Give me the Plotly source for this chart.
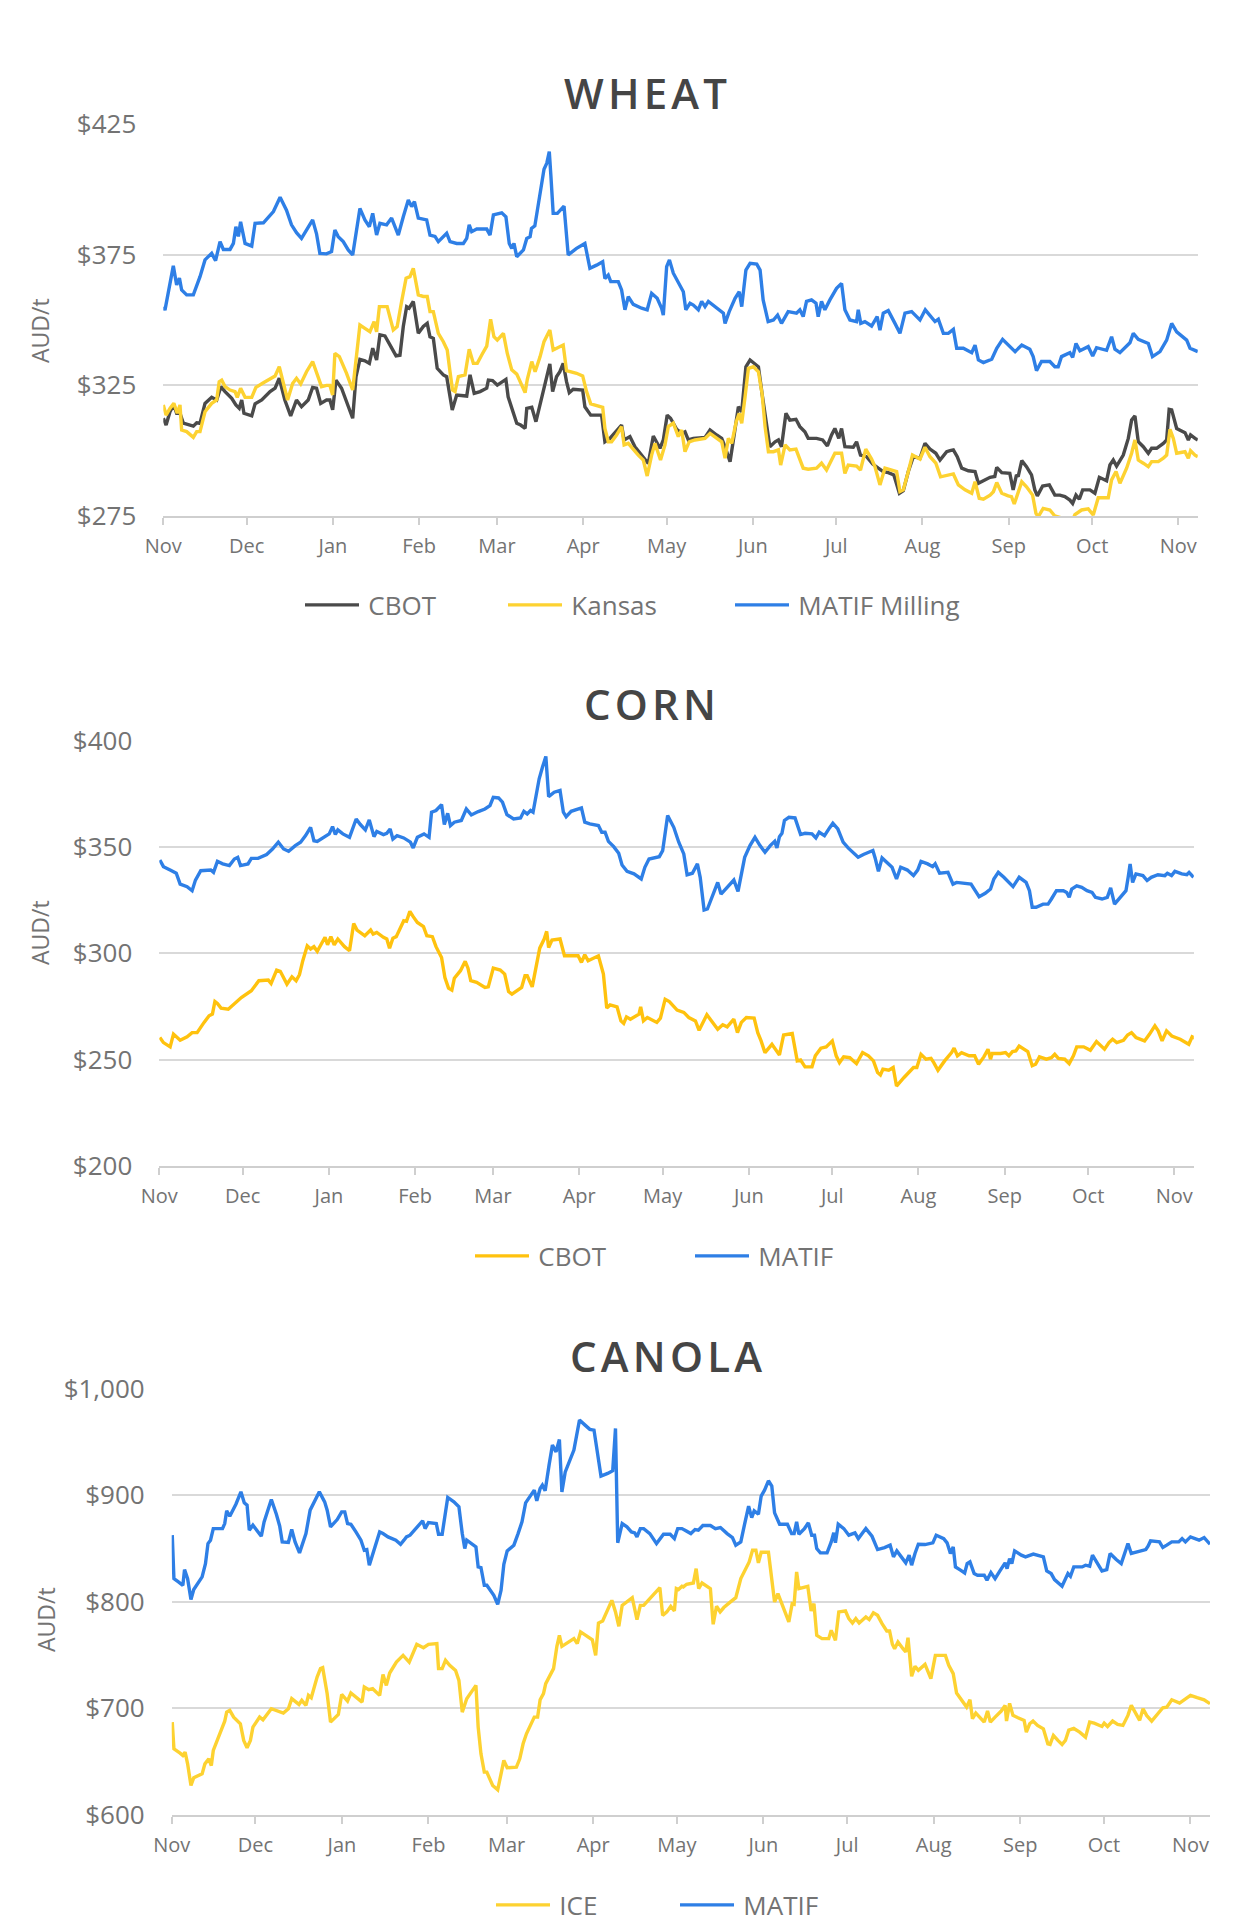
import pandas as pd
import plotly.graph_objects as go

# days counted from 1 Nov 2018, prices in AUD/t
START = pd.Timestamp("2018-11-01")

wheat_cbot_day = [0, 1, 2.4, 3.8, 4.8, 6, 7.2, 10.8, 12, 13.2, 15, 17.4, 19.2, 20.7, 22.2, 24.6, 26.1, 27.3, 28.2, 29, 31.8, 33, 35.4, 38.4, 40.2, 41.7, 43.7, 45.8, 47.9, 49.7, 52.1, 53.7, 55.1, 56.6, 58.7, 59.9, 60.9, 62.1, 64.1, 65.9, 68.1, 69.3, 70.7, 72.5, 74.1, 75.3, 76.7, 77.9, 79.7, 81.5, 83.7, 85.1, 86.3, 87.5, 88.4, 89.9, 91.7,
                  93.5, 94.9, 95.9, 97.1, 98.5, 100.7, 101.9, 103.1, 103.9, 105.5, 107.9, 109.1, 110.3, 111.8, 113.9, 116.3, 116.9, 118.4, 120.1, 121.7, 123.2, 124, 125.6, 127.1, 128.5, 130.1, 130.7, 132.5, 134, 135.5, 137.2, 139, 140, 141.4, 142.6, 143.8, 145, 146, 147.4, 150.8, 151.6, 153.7, 157.6, 158.8, 160.6, 163, 164.8, 165.7, 167.8, 169.6, 171.6, 173.2, 174.4, 176.2, 178.6, 179.8, 181.2, 182.4, 184.6, 186.4, 187.6, 188.8, 190.6,
                  194.8, 196.6, 199, 200.8, 202, 203.8, 205, 206.8, 208, 209.5, 211, 212.7, 214, 215.3, 217, 218.1, 220, 221.2, 222.3, 223.9, 225.3, 227.5, 228.9, 230.7, 231.9, 234.9, 237.1, 238.8, 240.3, 241.5, 242.9, 243.9, 245.1, 248.1, 249.3, 250.7, 252.9, 255.1, 257.1, 258.9, 260.7, 262.7, 264.7, 266.1, 267.9, 269.7, 272.1, 273.9, 275.7, 277.8, 279.3, 281.7,
                  282.9, 284.1, 285.5, 287.1, 289.5, 291.9, 293.1, 294.9, 297.3, 299, 299.7, 301.5, 304.4, 305.6, 306.8, 307.4, 308.7, 310.4, 312.2, 313.4, 314.3, 316.2, 318.6, 320.6, 322.4, 324.2, 326, 327, 328.2, 329.4, 330.6, 333.2, 335, 336.6, 339.2, 340.4, 341.6, 342.8, 345.2, 347, 348.2, 349.4, 350.6, 352.4, 354.2, 355.4, 357.2, 359.6, 360.8, 361.7, 362.6, 364.4, 367.4, 368.6, 369.4, 371, 372]
wheat_cbot = [312.4, 309.8, 314.9, 317.5, 314.3, 314.3, 310.5, 309.4, 310.7, 310.5, 318.1, 320.4, 319.4, 324.5, 322.6, 320, 317.5, 316.2, 319.4, 314.3, 313.3, 317.9, 319.4, 322.6, 323.9, 327.7, 319.4, 313.3, 319.4, 316.8, 319.4, 324.2, 323.9, 318.1, 319.4, 319.4, 315.6, 327, 323.9, 318.8, 312.4, 328.3, 334.9, 334.4, 333.4, 339.2, 334.7, 344.3, 343.9, 340.5, 336.3, 336.5, 347.5, 355.1, 354.5, 357.1, 344.9,
              347.5, 348.7, 343.6, 343, 331.5, 329, 328.3, 320.6, 315.6, 321.3, 320.9, 320.9, 329, 321.9, 322.6, 323.9, 327, 326.8, 325.1, 326.4, 327.3, 320.6, 314.9, 310.5, 309.8, 308.5, 316.2, 316.6, 311.1, 317.5, 325.7, 333.2, 322.6, 328.3, 330.2, 333.4, 326.4, 322.2, 323.5, 323.2, 316.8, 313.6, 313.6, 303.4, 304.7, 307.9, 309.8, 304.1, 305.4, 301.5, 299, 297.1, 295.1, 305.6, 300.9, 304.1, 313.6, 312.4, 308.2, 306.6, 307.2, 304.1, 304.7,
              305.1, 307.9, 306, 304.7, 301.5, 295.8, 304.1, 316.8, 314.9, 332.1, 334.7, 333.4, 332.1, 321.9, 309.2, 301.5, 303.4, 304.1, 301.5, 314.3, 311.7, 312, 309.2, 307.2, 304.7, 304.7, 304.1, 301.8, 306, 308.5, 304.7, 308.5, 301.5, 301.3, 303.4, 298.3, 297.7, 294.9, 293.3, 292, 291.6, 290.7, 283.7, 284.7, 292, 297.7, 297.1, 302.8, 300.6, 299, 296.4, 299.6,
              300, 300.3, 297.7, 293.3, 292.3, 292, 287.5, 288.5, 289.8, 290.1, 293.6, 291.6, 291.3, 285, 290.7, 290.1, 296.2, 293.9, 290.7, 285, 282.7, 286.5, 286.9, 283, 283, 282.4, 281.1, 279.8, 283, 281.4, 285, 285, 283.7, 289.8, 288.5, 294.5, 296.4, 294.1, 298.3, 304.7, 311.7, 313.3, 303.4, 301.5, 299, 300.9, 300.9, 302.8, 304.1, 315.8, 315.6, 308.5, 306.9, 304.1, 306, 304.7, 304.1]

wheat_kansas_day = [0, 1, 2.4, 3.8, 5, 6, 6.6, 8.4, 10.8, 12, 13.2, 15, 17.4, 19.2, 20.1, 21, 22.2, 24, 25.8, 26.6, 27.8, 29.4, 31.8, 33.3, 36, 38.4, 40.2, 41.7, 43.1, 44.7, 46.5, 47.9, 49.4, 51.5, 53.7, 55.1, 56.9, 58.7, 59.9, 60.9, 61.7, 63.3, 65.9, 68.1, 69.5, 70.7, 72.5, 74.3, 75.8, 76.7, 77.7, 80.5, 82.7, 84.1, 85.7, 87.3, 88.7, 89.9, 91.7,
                    93.5, 94.9, 95.9, 97.1, 98.9, 100.7, 102.1, 103.1, 104, 104.9, 106.1, 108.5, 110, 111.5, 112.9, 114.5, 116.3, 117.7, 118.9, 120.1, 122.3, 123.7, 125.3, 127.1, 128.9, 130.1, 130.9, 132.5, 133.7, 135.5, 136.9, 138.1, 139, 140.2, 142, 143.8, 145, 146.8, 148.6, 150.8, 152.2, 153.7, 155.8, 158, 158.8, 160, 161.2, 163, 164.8, 165.7, 167.2, 169, 170.8, 172.6, 174, 175.6, 176.8, 178.8, 180.4, 181.6, 183.4, 185.2, 186.4, 187.6, 189.1, 191.2,
                    194.8, 196.6, 199, 200.8, 202, 203.2, 204.4, 206, 207.1, 208, 209.2, 210.4, 212.2, 214, 215.3, 216.4, 217.6, 219.4, 221.2, 222, 223.6, 225.3, 227.5, 228.9, 230.1, 231.9, 234.9, 236.7, 238.5, 241.5, 243.9, 245.1, 246.3, 249.3, 250.7, 252.6, 254.7, 255.9, 257.7, 259.5, 261.3, 263.7, 264.9, 266.1, 267.9, 269.4, 272.1, 273.9, 275.7, 277.8, 279.5, 282.3,
                    284.1, 285.9, 288.3, 290.7, 291.9, 293.4, 294.9, 297.3, 298.5, 299.7, 301.5, 303.8, 305, 306, 307.4, 308.7, 310.4, 312.6, 313.8, 314.6, 316.4, 318.8, 320.6, 323.6, 327.2, 327.8, 330.2, 332.6, 334.4, 336.2, 339.8, 341, 342.6, 344, 346.4, 348.2, 349.4, 350.6, 352.4, 354.2, 355.4, 357.8, 359.6, 360.8, 362, 363.2, 364.4, 367.4, 368.6, 369.4, 371, 372]
wheat_kansas = [317.5, 313.6, 316.2, 318.1, 314.3, 317.5, 307.9, 307.3, 305.1, 307.3, 307.3, 314.9, 318.1, 319.4, 326.4, 327, 324.5, 323.2, 322.6, 320.4, 323.9, 320.4, 320.4, 324.2, 326, 327.7, 328.6, 332.1, 325.5, 319.4, 325.7, 327.7, 325.5, 330.2, 334.1, 329.6, 324.5, 325, 325, 321.3, 337.2, 336, 329.6, 323.2, 337.2, 348.1, 346.8, 345.5, 349.4, 345.5, 355.1, 355.1, 346.2, 347.5, 357.1, 366, 366.6, 369.8, 359.6,
                359, 359, 353.2, 353.2, 344.9, 341.7, 338.5, 330.2, 323.2, 322.6, 328.3, 329, 338.8, 333.4, 333.4, 336.6, 340, 350.3, 343.6, 342.3, 344.9, 337.2, 330.9, 329.3, 325.1, 322.2, 327.3, 334.1, 330.2, 336, 341.7, 343.9, 346.2, 338.5, 339.5, 340.4, 330.6, 330.2, 329.6, 328.6, 322.6, 317.9, 317.1, 316.6, 308.5, 303.4, 303.4, 306, 309.2, 302.2, 302.8, 300.3, 298.3, 296.4, 290.3, 298.3, 302.8, 296.4, 302.2, 309.2, 310.5, 305.4, 307.9, 299.6, 303.4, 304.1,
                304.7, 306.6, 304.7, 303.4, 297.1, 304.7, 302.8, 311, 314.3, 310.5, 320.6, 331.5, 332.1, 330.2, 321.9, 309.2, 299.6, 299.6, 300.3, 294.5, 302.2, 300.3, 300.6, 297.1, 293.3, 292.9, 293.3, 295.2, 292.6, 299, 299, 291.3, 294.5, 294.1, 292.6, 300.6, 296.8, 293.9, 286.9, 293.3, 292.6, 292, 284.4, 285, 292, 298.3, 296.8, 301.3, 297.7, 295.2, 290, 290.7,
                291.1, 286.9, 285, 283.7, 288.1, 281.8, 281.4, 283, 284.3, 287.8, 283.7, 282.7, 282.4, 279.6, 284.3, 288.1, 286.2, 283, 276, 274.7, 277.9, 277.3, 275, 274.1, 274, 275.5, 277.3, 277.7, 275.4, 282, 282, 288.8, 292, 287.5, 293.3, 299, 304.1, 296.4, 295.2, 293.9, 295.8, 295.8, 297.1, 298.3, 308.2, 304.7, 299, 299.6, 297.1, 300, 298.3, 297.7]

wheat_matif_day = [0, 0.6, 3.6, 4.8, 5.8, 6.6, 8.4, 10.8, 13.2, 15, 17.4, 18.8, 20.4, 21.6, 24, 25.2, 26.1, 27, 27.8, 29.4, 31.8, 33, 36, 39.6, 42, 44.3, 46.1, 47.9, 49.7, 51.5, 53.7, 55.1, 56.3, 58.7, 60.5, 61.7, 62.9, 64.7, 66.5, 68.1, 69.5, 70.7, 72.5, 74.1, 75.3, 76.7, 77.9, 80.3, 82.1, 84.5, 86.3, 88.1, 89.3, 90.3, 91.7,
                   94.7, 95.9, 97.7, 98.9, 101.9, 103.1, 105.5, 107.9, 109.1, 110, 110.9, 112.7, 116.3, 117.5, 118.7, 121.7, 123.2, 124.4, 125.3, 126.1, 127.1, 129.5, 130.7, 131.9, 132.4, 133.6, 135.4, 136.9, 137.9, 138.8, 139.4, 140.2, 141.7, 142.6, 144.1, 145.6, 148.6, 151.6, 153.4, 155.8, 158, 158.8, 160, 160.9, 163.6, 164.8, 166, 167.2, 169, 172, 174, 175.6, 177.6, 179.2, 179.8, 181, 182, 183.4, 185.8, 187, 187.9, 189.4,
                   190.6, 192.4, 193.6, 194.8, 196, 197.8, 200.2, 201.4, 202, 203.5, 205.6, 207.1, 208, 209.5, 211, 213.4, 214.6, 215.7, 217.5, 219.4, 220.9, 222.3, 224.7, 227.7, 228.9, 230.1, 231.3, 233.1, 234.7, 235.5, 236.7, 237.9, 239.7, 242.1, 243.9, 245.1, 246.9, 249.3, 249.9, 250.8, 252.3, 254.7, 256.7, 257.7, 258.9, 260.7, 263.1, 264.9, 266.7, 269.1, 270.9, 272.1, 274, 275.7, 277.5, 278.7, 280.5, 282.3,
                   284.1, 285.3, 287.7, 290.7, 291.9, 293.1, 294.9, 297.9, 299.7, 301.8, 303.8, 306.3, 308.7, 311.6, 312.8, 314, 315.8, 318.8, 320.6, 321.8, 323, 326, 327, 328.2, 329.6, 332.6, 334.2, 335.6, 339.2, 341, 342.2, 344, 347.6, 348.8, 350.6, 354.2, 355.7, 358.4, 360.8, 362.6, 364.4, 368, 369.2, 370.4, 372]
wheat_matif = [355.1, 353.8, 370.7, 363.4, 366, 361.5, 359.6, 359.6, 366.6, 373, 375.5, 372.7, 380, 377, 377, 379.3, 385.7, 382, 387.6, 379.3, 378.3, 387, 387.2, 391.5, 397, 392, 386.4, 383.4, 381.2, 384.4, 388.3, 383, 375.5, 375.3, 376.2, 384.4, 381.9, 380, 376.8, 374.9, 385.7, 392.7, 388.3, 385.7, 390.8, 382.5, 387, 386.4, 389, 382.5, 389.5, 395.9, 393.4, 395.3, 389,
               388.3, 382.5, 382, 380, 383.2, 380, 379.3, 379.3, 381.2, 386.4, 383.8, 384.8, 384.8, 382.5, 390.2, 391, 389.5, 379.3, 377.4, 379.3, 374.2, 376.8, 381.2, 381.9, 385, 386, 398.5, 407.7, 410, 414.4, 404.8, 390.8, 390.8, 392, 393.6, 374.9, 377.4, 379.3, 369.8, 371, 372.3, 365.9, 367.2, 364.7, 364.7, 361.5, 353.9, 358.9, 356, 354.5, 353.9, 360.2, 358.3, 354.5, 351.9, 370.4, 373, 367.9, 362.8, 360.8, 353.9, 356.4,
               355.7, 353.9, 357.1, 355.1, 357.1, 355.7, 353.9, 352.6, 348.7, 353.2, 358.3, 360.8, 355.1, 369.1, 371.7, 371.4, 369.1, 357.7, 349.4, 350, 351.9, 348.7, 353.2, 352.6, 353.9, 351.3, 357.1, 357.7, 356.4, 351.3, 357.1, 353.9, 357.7, 362.1, 364, 353.9, 350, 349.4, 353.9, 348.7, 349.4, 347.7, 351.3, 346.1, 352.6, 353.6, 348.7, 344.9, 352.6, 353.2, 351.3, 350, 353.9, 351.9, 349.4, 350.3, 344.9, 344.9,
               346.4, 339.2, 339.2, 337.5, 340.4, 334.7, 333.7, 335, 339.2, 342.6, 340.7, 337.9, 340.4, 338.8, 336, 330.6, 334.1, 334.1, 332.1, 332.1, 336, 337.5, 335.7, 341, 338.2, 339.8, 336.2, 339.4, 338.4, 343.6, 338.8, 337.5, 341.3, 344.9, 342.6, 341, 336, 337.9, 342.3, 348.7, 345.5, 342.3, 339.2, 338.5, 337.9]

corn_cbot_day = [0.2, 1.5, 3.9, 5.1, 7.5, 10, 11.8, 13.6, 16.1, 17.9, 19.1, 20, 20.9, 22.2, 24.8, 27, 29.5, 33.1, 35.8, 39.2, 40.2, 42.2, 43.5, 45.9, 47.7, 49.2, 50.4, 51.6, 53.2, 54.4, 55.6, 56.8, 58.1, 59.6, 60.5, 61.7, 62.9, 64.2, 66.6, 68.4, 69.9, 71.1, 73.9, 76, 76.9, 78.2, 80.6, 81.8, 82.8, 84, 85.2, 86.7, 87.9, 88.9, 90.1, 91.3, 92.8, 95, 96.2, 98.2, 99.5, 101.5, 102.7, 104, 105.2, 106.1, 108.3, 110, 111, 112, 114.1, 117.1, 118.3, 120.1, 122.6, 124.2, 125.6, 126.8, 128.7, 130.3, 131.5, 132.3, 134.1, 135.4, 136.8, 138.4, 139.3, 140, 141.2, 144.1, 145.7, 150.6, 151.8, 153, 154.2, 157.9, 159.7, 160.9, 162.1, 164.6, 166, 167, 168, 169.4, 172.5, 173.1, 174.1, 175.5, 178.9, 180.2, 181.9, 183.4,
                 186.2, 188.6, 190.4, 192.8, 194.1, 196.9, 199, 200.8, 202.6, 204.2, 206.6, 207.9, 209.3, 211.1, 213.9, 215.2, 216.4, 217.8, 220.3, 223, 224.5, 227.6, 229.4, 230.6, 232.2, 234.7, 235.9, 237.9, 239.8, 242, 243.4, 244.6, 246.1, 248.3, 250.7, 252.9, 255, 256.8, 258.3, 259.3, 260.2, 262.3, 263.9, 265.1, 267.8, 271.2, 272.4, 273.9, 275.7, 277.5, 278.5, 280, 282.4, 284.9, 285.8, 287, 288.5, 291.2, 293.2, 294.6, 296.5, 298, 298.9, 299.5, 302.5, 304.3, 305.5, 306.8, 308, 309.2, 312.3, 313.9, 315.1, 316.5, 319, 320.8, 322, 323.3, 325.6, 327.2, 328.7, 329.9, 332.4, 334.8, 337, 338.5, 339.9, 341.5, 342.8, 344.3, 346.7, 348.2, 349.6, 351.2, 354.3, 356.1, 358, 359.2, 360.6, 362.2, 364.1, 367.1, 369, 370.2, 371.4, 372.4]
corn_cbot = [260.4, 258, 256, 262, 259.1, 260.7, 262.7, 262.7, 267.5, 270.6, 271.4, 277.3, 276.4, 274.2, 273.7, 276.1, 279.2, 282.4, 287.1, 287.4, 285.8, 292.1, 291.5, 285.5, 288.9, 287.1, 289.9, 296.5, 303.5, 302, 303.1, 300.9, 304.3, 307.5, 304, 307.8, 304, 306.7, 303.1, 301.2, 314, 310.9, 308.2, 310.9, 309, 309.8, 307.5, 306.7, 302.4, 307.1, 307.8, 312.5, 315.3, 315, 319.7, 317.2, 314.5, 312.5, 308.2, 307.8, 303.1, 298, 288.6, 283.6, 282.7, 288.3, 291.8, 296.2, 293, 287.1, 286.3, 283.9, 284.2, 293, 292.1, 290.2, 282, 280.8, 282.7, 283.9, 289.4, 289.4, 284.2, 293.3, 302.4, 306.7, 310.3, 302.7, 306.2, 306.7, 298.8, 298.8, 295.7, 299.3, 296.5, 298.8, 290.2, 274.2, 275.7, 274.8, 268.2, 267, 270.1, 269, 271.4, 274.8, 268.2, 269.8, 267.5, 269.5, 278.4, 277.3,
             273.3, 272.2, 269.8, 268.2, 263.8, 271.1, 267.5, 264.3, 266.4, 265.4, 269, 262.7, 267.5, 269.8, 269.5, 262.7, 258.8, 253.3, 257.2, 252.2, 261.6, 262.3, 249.4, 249.8, 246.6, 246.6, 251.8, 255.4, 256, 258.8, 251.8, 248.6, 251.3, 250.9, 248.1, 253.3, 251.8, 249.4, 243.9, 242.8, 245.5, 245, 246.3, 237.6, 241.6, 246.3, 246.3, 252.5, 250.2, 250.6, 248.6, 245, 249.4, 253.3, 255.4, 251.8, 253.3, 251.8, 251.8, 247.8, 251.3, 254.9, 250.2, 252.9, 252.9, 253.3, 251.8, 253.8, 254.1, 256.4, 253.8, 247.1, 247.8, 251.3, 250.2, 250.9, 252.5, 250.6, 250.2, 248.1, 251.8, 256, 256, 254.4, 258.5, 256.4, 254.9, 258, 259.6, 258, 259.1, 261.6, 262.7, 260.4, 258.8, 262, 265.9, 263.5, 258.8, 263.5, 261.1, 259.6, 258, 257.2, 260.7, 260.1]

corn_matif_day = [0.2, 1.5, 3.9, 6.1, 7.5, 10, 11.8, 13, 14.9, 18.5, 19.5, 20.9, 22.8, 25.2, 27, 28.2, 29.2, 31.9, 33.1, 35.5, 38.6, 40.7, 42.8, 44.7, 46.5, 48.9, 50.8, 52.6, 54.4, 55.6, 56.8, 59.9, 61.1, 62.3, 63.3, 64.2, 66, 68.4, 69.6, 70.8, 72.3, 74.1, 75.5, 76.3, 77.2, 78.2, 80.6, 81.8, 83, 84, 85.5, 87.9, 90.3, 91.3, 92.8, 95.2, 97, 97.9, 99.5, 101.5, 102.5, 103.7, 104.7, 106.1, 108.6, 110.4, 112.2, 114.7, 117.1, 118.9, 120.1, 122, 123.4, 125, 127.4, 129.9, 131.1, 132.3, 133.5, 134.4, 135.4, 136.6, 137.8, 139, 140, 142, 144.1, 145.3, 146.3, 148.1, 151.8, 153, 154.8, 157.9, 159.1, 160.3, 161.5, 163.4, 165.2, 166.4, 168.2, 170.7, 173.3, 174.6, 176.1, 179.8, 181, 181.9, 182.8,
                  185, 186.8, 188.6, 189.8, 191.7, 193.5, 194.5, 195.9, 197.1, 199, 200.8, 202, 204.4, 206.6, 208.1, 209.3, 210.5, 212.4, 214.2, 216, 217.8, 219.7, 221.3, 222.1, 223, 223.9, 224.8, 226.4, 228.6, 230.6, 232.2, 234.7, 236.1, 237.3, 239.2, 241, 242.2, 244, 245.9, 247.7, 249.5, 251.3, 253.2, 255, 256.6, 257.4, 258.6, 259.9, 261.7, 263.5, 265.1, 266.6, 269, 271.2, 272.7, 273.9, 276.3, 278.1, 279, 280.6, 283.6, 285.4, 286.7, 288.5, 291.9, 293.4, 294.8, 297, 298.9, 300.1, 301.7, 303.7, 305.5, 307, 308, 309.2, 311.7, 312.9, 313.9, 315.3, 317.8, 319.6, 320.8, 322.6, 325.1, 326.3, 327.2, 328.1, 329.9, 331.7, 333.6, 335.4, 336.6, 339, 340.9, 342.1, 343.5, 345.7, 347.6, 348.4, 349.1, 350, 351.2, 353.7, 355.2, 356.7, 359.1, 361.6, 362.5, 364, 365.2, 367.7, 369.5, 370.3, 371.9]
corn_matif = [343.8, 340.7, 339.1, 337.6, 332.5, 331.3, 329.4, 334.4, 338.8, 339.1, 338, 343.2, 342, 341.2, 344.3, 345.1, 341.2, 342, 344.6, 344.6, 346.4, 349, 352.2, 349, 347.9, 350.6, 352.2, 355.3, 359.2, 352.9, 352.6, 355.3, 356.1, 359.5, 355.8, 358, 356.1, 354.5, 358.9, 363.1, 360.5, 358, 362.7, 359.5, 354.8, 357.2, 355.8, 356.4, 358.4, 353.7, 355.3, 354.2, 352.2, 349.5, 354.5, 356.1, 354.5, 366.3, 367.1, 369.9, 360.5, 365.8, 360, 361.6, 362.4, 367.8, 365, 366.6, 367.8, 369.4, 373.3, 373, 371, 365.2, 363.1, 363.6, 366.7, 365.5, 367.1, 366.3, 374.1, 382, 387.5, 392.5, 373.6, 375.7, 376.5, 366.3, 364.2, 366.7, 368.3, 361.6, 360.8, 360, 356.9, 356.9, 352.6, 350.1, 347, 341.5, 338.5, 337.3, 334.9, 340.4, 344.3, 345.4, 348.2, 355.3, 364.7,
              359.2, 352.2, 346.7, 336.9, 337.6, 342, 335.7, 320.3, 320.8, 327.8, 333.3, 327.8, 331, 334.4, 329.1, 336.5, 345.1, 350.6, 354.5, 350.6, 347.5, 350.6, 352.6, 349.5, 354.8, 356.4, 362.4, 363.9, 363.6, 355.8, 356.4, 356.1, 354.2, 356.9, 355.3, 358.9, 361.1, 358.4, 352.2, 349.5, 347.5, 345.1, 346.4, 347.5, 348.3, 344.8, 338.5, 344.8, 342.7, 340.4, 334.9, 340.4, 339.1, 336.5, 339.1, 343.2, 342, 340.7, 342, 337.6, 338, 332.5, 333.3, 332.9, 332.5, 329.4, 326.6, 328.2, 330.2, 334.9, 338, 335.7, 333.3, 331.3, 333.3, 335.7, 333.3, 329.4, 321.6, 321.6, 323.1, 323.1, 325.5, 329.4, 329.4, 328.6, 326.3, 330.2, 331.7, 331, 329.4, 328.6, 326.3, 325.5, 326.3, 330.7, 323.1, 326.6, 329.4, 335.7, 342, 333.3, 337.3, 336.5, 334.2, 335.7, 336.9, 336.5, 337.6, 336.5, 338.5, 337.3, 336.9, 338, 335.7]

canola_ice_day = [0.2, 0.8, 3, 4, 4.8, 5.7, 6.9, 7.9, 10.9, 11.9, 13.3, 14.2, 14.9, 16.9, 19, 19.7, 20.8, 22.2, 24.6, 25.8, 27, 28.2, 29.1, 31.5, 32.7, 35.7, 40, 41.8, 43, 45.6, 46.6, 48.1, 49, 50, 52.1, 53.3, 54.1, 55.7, 56.9, 59.7, 60.9, 63, 64.2, 68.2, 69, 70.6, 72, 74.5, 75.7, 76.9, 78.1, 80.5, 82.9, 85.1, 87.8, 90.2, 92, 95, 95.6, 96.9, 98.1, 99.6, 101.7, 102.9, 104.1, 105.7, 107.4, 109, 109.8, 110.8, 112, 112.9, 115, 116.8, 118, 119, 120.2, 123.5, 124.7, 125.9, 127.1, 129.9, 131.1, 132, 133.2, 134, 136.8, 138, 138.9, 139.8, 144.1, 145.3, 146.5, 150.7, 151.9, 152.9, 154.4, 155.6, 157.7, 159, 160.2, 161.4, 162.6, 165, 166.7, 167.9, 169.1, 170.7, 173.1, 174.9, 175.9, 177.4, 178.8, 180.1, 180.8, 181.6, 182.8,
                  183.3, 184.5, 186.9, 187.9, 188.8, 190, 193, 194, 195.2, 196.5, 197.8, 200.2, 202.1, 203.9, 205.7, 206.9, 208.1, 209.3, 210.2, 211.2, 213.8, 215, 216, 217.2, 219, 221.1, 222.3, 223, 223.9, 224.7, 227.9, 229.1, 230.1, 231.1, 233, 235.4, 236.3, 237.8, 239, 241.4, 242.6, 243.9, 245.1, 246.3, 248.7, 249.9, 251.4, 252.9, 254.5, 256.2, 257.2, 258.2, 259, 260.2, 262, 263, 263.8, 265.1, 266.3, 267.5, 269.9, 272, 273.6, 277.2, 278.4, 280, 281.2, 283.3, 284.8, 286, 286.9, 288.1, 289.3, 291.1, 292.3, 293.3, 295, 297.2, 298.6, 299.1, 300.2, 301.4, 303.2, 305.4, 306.2, 307.4, 308.6, 310.2, 312.3, 313.9, 314.7, 315.9, 317.5, 319, 320.2, 321.4, 323.2, 325.3, 327.4, 328.9, 330.5, 333.3, 334.1, 335.3, 337.1, 338.9, 340.8, 342.6, 343.8, 345.4, 346.8, 348, 349.3, 351.1, 352.9, 355.1, 356.5, 358.3, 361.1, 362.6, 365, 367.4, 369.9, 372]
canola_ice = [686.8, 661.7, 657.7, 655.5, 658.6, 647.6, 627.2, 634.5, 638.2, 647.6, 652.3, 646, 660.2, 672.7, 687.7, 696.2, 697.8, 691.5, 685.2, 669.6, 662.7, 669.6, 682.1, 691.5, 689, 699.4, 695.3, 699.4, 708.8, 703.4, 707.2, 702.5, 711.9, 709.7, 729.1, 737, 737.9, 713.5, 686.8, 694, 712.8, 706.6, 714.1, 705.6, 719.7, 717.2, 718.2, 711.9, 731.6, 721.3, 732.9, 743.2, 749.5, 743.2, 759.9, 756.7, 759.9, 760.5, 737, 737, 744.8, 740.1, 735.4, 726, 696.2, 708.8, 715, 721.3, 682.1, 657, 639.8, 639.8, 627.2, 623.2, 638.2, 650.8, 643.9, 644.5, 652.3, 666.4, 675.8, 691.5, 691.5, 707.8, 713.5, 722.9, 737, 758, 768.3, 758, 765.2, 760.5, 771.5, 764.2, 749.5, 779.9, 781.8, 788.7, 801.2, 790.3, 776.8, 796.5, 798.7, 803.7, 783.1, 796.5, 796.5, 801.2, 807.5, 813.2, 787.1, 790.3, 795.6, 791.2, 812.2, 811.3, 814.4,
              813.8, 816.3, 817.5, 831, 812.2, 817.5, 812.2, 778.7, 795.6, 790.3, 794.4, 799.7, 803.7, 821.6, 831, 837.3, 848.3, 848.3, 836.4, 846.4, 846.4, 821.6, 799.7, 807.5, 795, 780.9, 798.1, 797.5, 827.9, 812.2, 814.4, 791.2, 798.1, 768.3, 765.2, 765.2, 773, 763.6, 790.3, 791.2, 784, 779.9, 784, 779.9, 785.6, 783.1, 789.4, 787.1, 779.3, 772.4, 772.4, 759.9, 755.8, 762.1, 755.8, 752.7, 766.1, 729.8, 739.2, 735.4, 741, 727.6, 749.5, 749.5, 740.1, 732.3, 714.1, 705.6, 700.9, 707.8, 690, 695.3, 692.1, 686.8, 697.2, 686.8, 691.5, 697.2, 702.5, 687.8, 704.4, 693.1, 690.9, 688.4, 677.4, 685.2, 687.8, 683.7, 680.5, 666.4, 665.8, 674.3, 669.6, 665.8, 669.6, 679.2, 680.8, 677.4, 672.7, 686.8, 685.8, 682.7, 685.8, 682.7, 687.8, 684.6, 683.7, 693.1, 702.5, 694.7, 688.4, 699.4, 693.1, 687.8, 693.1, 700.3, 700.9, 707.8, 704.7, 707.8, 711.9, 709.7, 707.8, 704.1]

canola_matif_day = [0.2, 0.8, 2.4, 4, 4.6, 5.7, 6.9, 7.9, 10.9, 12.1, 13, 13.9, 14.9, 18.2, 19, 19.7, 20.8, 23, 24.8, 26, 27, 27.8, 29.1, 32.1, 33.1, 35.7, 37.5, 38.7, 39.6, 41.8, 43, 44.2, 45.8, 48.1, 49.6, 51.5, 52.9, 54.8, 55.7, 56.9, 59.3, 60.9, 62, 63, 64.2, 66, 67.8, 69, 69.9, 70.8, 72.6, 74.5, 75.7, 77.5, 80.3, 82, 83.2, 84.1, 85.4, 87.5, 89.9, 90.8, 92, 94.8, 95.6, 96.9, 98.1, 98.9, 101.1, 102.9, 104.1, 105, 105.7, 109, 109.8, 110.8, 112, 112.9, 115.4, 116.8, 118, 119, 120.2, 122.6, 124.1, 125.5, 126.8, 128.7, 129.9, 130.8, 132, 132.8, 133.8, 135.2, 136.4, 137.7, 138.9, 139.8, 141, 144.1, 146.1, 148.1, 149.8, 151.3, 152.5, 153.8, 156.2, 158, 159, 159.8, 161.4, 163.1, 164.7, 165.9, 166.7, 167.9, 169.1, 171.3, 173.7, 176.2, 178.6, 180.1, 181.3, 182.8,
                    183.9, 186, 187.5, 188.7, 190.3, 193, 194.8, 196.6, 199, 200.9, 202.1, 203.9, 205.3, 206.7, 207.8, 208.7, 210.2, 211.2, 212.4, 213.8, 215, 216, 217.8, 220.6, 222.1, 223, 223.9, 224.7, 226.7, 228.1, 229.3, 230.3, 231.1, 232.4, 234.8, 236.3, 237.2, 237.8, 238.8, 240.8, 242.6, 244.8, 246, 248.7, 250.9, 252.9, 255.4, 257.4, 258.6, 259.8, 261.4, 263, 264.2, 265.1, 266.3, 267.5, 269.9, 272.7, 273.9, 276.6, 277.8, 279, 280, 280.8, 282.6, 284.1, 285, 286, 287.5, 288.7, 291.1, 292.1, 293.5, 295, 296.9, 298.6, 299.3, 300.2, 301, 302, 304.4, 305.9, 308.7, 312.3, 313.5, 315.1, 316.3, 319, 321.1, 322, 323.2, 326.2, 327.4, 328.9, 329.9, 331.7, 333.3, 335, 336.2, 338.4, 340.2, 341.8, 342.6, 343.8, 346.8, 349, 349.8, 350.7, 353.9, 355.1, 356.5, 358.3, 360.8, 362, 363.2, 365, 368.1, 369.9, 372]
canola_matif = [862.4, 821.6, 818.5, 815.3, 830.1, 821.6, 801.9, 811.3, 823.2, 835.7, 854.5, 857.7, 868.6, 868.6, 873.3, 885.3, 880.2, 891.5, 903.1, 892.8, 890.6, 867.1, 871.8, 861.4, 874.9, 895.9, 882.1, 870.8, 856.1, 855.5, 867.7, 856.1, 845.8, 863.9, 885.9, 895.3, 903.1, 893.7, 885.9, 870.2, 877.1, 884.3, 884.3, 873.3, 872.7, 865.5, 857.7, 848.3, 848.9, 834.2, 849.8, 865.5, 863.9, 860.8, 857.7, 853.9, 857.7, 860.8, 862.4, 868.6, 875.9, 868.6, 874.3, 873.3, 863.3, 863.3, 886.5, 897.8, 893.7, 889, 863.9, 849.8, 857.7, 851.4, 832.6, 832, 815.3, 815.3, 805.9, 797.5, 810.6, 835.1, 847.6, 853, 863.9, 874.9, 892.8, 900, 904.7, 894.7, 906.3, 909.4, 904.1, 928.2, 947, 940.7, 952.3, 903.1, 921.9, 942.3, 970.5, 965.8, 961.8, 961.1, 937.6, 917.9, 920.4, 922.9, 962.7, 855.2, 873.3, 870.2, 865.5, 864.6, 860.8, 868.6, 868.6, 863.9, 854.5, 863.3, 863.3, 859.2, 868.6, 868.6,
                867.1, 863.9, 867.7, 867.1, 871.5, 871.5, 868.6, 869.6, 863.9, 860.2, 853, 856.1, 873.3, 889.6, 878.9, 885.3, 882.1, 899.1, 904.7, 913.5, 908.5, 883.4, 872.7, 872.7, 863.9, 863.9, 874.9, 863.3, 868.6, 874, 862.4, 862.4, 849.8, 845.8, 845.8, 856.1, 864.6, 855.2, 872.7, 868.6, 862.4, 864.6, 859.2, 868.6, 861.4, 848.9, 850.8, 853, 842, 847.6, 842, 836.4, 843.6, 834.2, 845.2, 853.9, 853.6, 855.2, 862.4, 859.2, 855.2, 845.2, 851.4, 832.6, 829.5, 826.9, 835.7, 837.3, 826.3, 824.8, 824.8, 820.1, 827.3, 821.6, 829.5, 836.4, 831, 840.4, 835.7, 847.6, 843.6, 842, 844.6, 842, 828.8, 826.3, 820.7, 814.4, 826.3, 823.8, 832.6, 832.6, 834.2, 833.2, 843.6, 835.7, 828.8, 830.1, 845.2, 839.5, 835.7, 848.3, 854.5, 845.2, 847.6, 848.9, 852, 857, 856.1, 850.8, 853, 856.1, 856.1, 859.2, 856.1, 860.8, 857.7, 860.2, 853.9]

BLUE = "#2e7fe6"
YELLOW = "#fdd231"
GOLD = "#ffc20e"
DARK = "#4a4a4a"
GRID = "#d9d9d9"
TXT = "#737373"
FONT = "Open Sans"

W, H = 1252, 1924


def dates(days):
    return START + pd.to_timedelta(days, unit="D")


def px(x):
    return x / W


def py(y):
    return 1 - y / H


fig = go.Figure()

charts = [
    # title, axis suffix, left, right, top, bottom (px), y range, dtick, title pos, y-title pos
    ("WHEAT", "", 163.3, 1197.8, 124, 516, [275, 425], 50, (645, 92), (40, 331)),
    ("CORN", "2", 159.3, 1193.8, 740.5, 1166, [200, 400], 50, (650, 703), (40, 933)),
    ("CANOLA", "3", 171.7, 1210, 1388.7, 1814.5, [600, 1000], 100, (666, 1355), (46, 1620)),
]

# axis suffix, name, days, values, colour, legend id, legend position (px)
series = [
    ("", "CBOT", wheat_cbot_day, wheat_cbot, DARK, "legend", (300, 605)),
    ("", "Kansas", wheat_kansas_day, wheat_kansas, YELLOW, "legend2", (503, 605)),
    ("", "MATIF Milling", wheat_matif_day, wheat_matif, BLUE, "legend3", (730, 605)),
    ("2", "CBOT", corn_cbot_day, corn_cbot, GOLD, "legend4", (470, 1256)),
    ("2", "MATIF", corn_matif_day, corn_matif, BLUE, "legend5", (690, 1256)),
    ("3", "ICE", canola_ice_day, canola_ice, YELLOW, "legend6", (491, 1905)),
    ("3", "MATIF", canola_matif_day, canola_matif, BLUE, "legend7", (675, 1905)),
]

layout = dict(
    width=W, height=H,
    margin=dict(l=0, r=0, t=0, b=0, autoexpand=False),
    paper_bgcolor="white", plot_bgcolor="white",
    font=dict(family=FONT, color=TXT),
    showlegend=True,
    annotations=[],
)

THIN = "\u2009"  # small gap between legend line and label

for ax, name, d, v, col, lg, lpos in series:
    fig.add_trace(go.Scatter(
        x=dates(d), y=v, name=THIN + name, mode="lines",
        line=dict(color=col, width=3.4),
        xaxis="x" + ax, yaxis="y" + ax,
        legend=lg,
    ))
    layout[lg] = dict(
        orientation="h", x=px(lpos[0]), y=py(lpos[1]),
        xanchor="left", yanchor="middle",
        font=dict(size=26, color=TXT, family=FONT),
        itemwidth=54, bgcolor="rgba(0,0,0,0)",
    )

HS = "\u200a"  # hair space for the spaced-out titles

for title, ax, left, right, top, bottom, yr, dt, tpos, ypos in charts:
    layout["xaxis" + ax] = dict(
        domain=[px(left), px(right)], anchor="y" + ax,
        type="date", range=["2018-11-01", "2019-11-08"],
        tick0="2018-11-01", dtick="M1", tickformat="%b",
        showgrid=False, showline=True, linecolor="#cfcfcf", linewidth=2,
        ticks="outside", ticklen=7, tickwidth=2, tickcolor="#cfcfcf",
        tickfont=dict(size=20, color=TXT), ticklabelstandoff=4,
        zeroline=False, automargin=False,
    )
    layout["yaxis" + ax] = dict(
        domain=[py(bottom), py(top)], anchor="x" + ax,
        range=yr, tick0=yr[0], dtick=dt, tickformat="$,.0f",
        showgrid=True, gridcolor=GRID, gridwidth=1.5,
        showline=False, zeroline=False, ticks="",
        tickfont=dict(size=26, color=TXT), ticklabelstandoff=26,
        automargin=False,
    )
    layout["annotations"].append(dict(
        text=HS.join(title), x=px(tpos[0]), y=py(tpos[1]), xref="paper", yref="paper",
        xanchor="center", yanchor="middle", showarrow=False,
        font=dict(size=42, color="#454545", family=FONT, weight=600),
    ))
    layout["annotations"].append(dict(
        text="AUD/t", x=px(ypos[0]), y=py(ypos[1]),
        xref="paper", yref="paper", xanchor="center", yanchor="middle",
        showarrow=False, textangle=-90,
        font=dict(size=23, color=TXT, family=FONT),
    ))

fig.update_layout(**layout)
# the page's default body margin would push the fixed-size figure off the window
fig.write_html("out.html", config={"displayModeBar": False},
               post_script="document.body.style.margin='0px';")
